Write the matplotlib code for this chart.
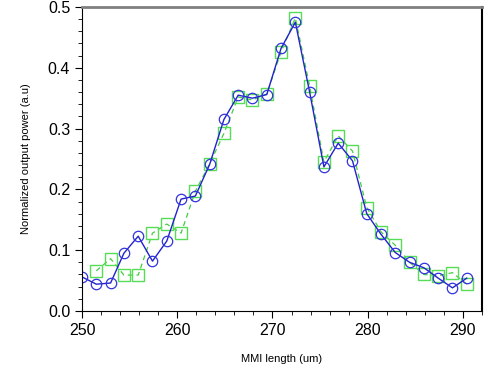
import numpy as np
import matplotlib.pyplot as plt
from matplotlib.ticker import MultipleLocator, FormatStrFormatter

plt.rcParams['font.family'] = ['Liberation Sans', 'DejaVu Sans']

# MMI length (um)
length = [250.0, 251.5, 253.0, 254.4, 255.9, 257.4, 258.9, 260.4, 261.9, 263.4,
          264.9, 266.4, 267.9, 269.4, 270.9, 272.4, 273.9, 275.4, 276.9, 278.4,
          279.9, 281.4, 282.9, 284.4, 285.9, 287.4, 288.9, 290.4]

# measured (blue circles)
power_a = [0.056, 0.044, 0.046, 0.095, 0.123, 0.082, 0.115, 0.184, 0.189, 0.241,
           0.315, 0.355, 0.350, 0.356, 0.432, 0.475, 0.360, 0.237, 0.276, 0.247,
           0.160, 0.126, 0.096, 0.080, 0.071, 0.054, 0.038, 0.054]

# second series (green squares), starts at 251.5
length_b = length[1:]
power_b = [0.066, 0.086, 0.059, 0.059, 0.128, 0.143, 0.128, 0.197, 0.242,
           0.292, 0.352, 0.347, 0.357, 0.426, 0.482, 0.370, 0.245, 0.288, 0.263,
           0.170, 0.130, 0.108, 0.080, 0.060, 0.058, 0.063, 0.044]

fig = plt.figure(figsize=(4.92, 3.68), dpi=100)
ax = fig.add_axes([0.1667, 0.155, 0.813, 0.826])

ax.plot(length_b, power_b, color='#44cc44', linestyle=(0, (4, 3)), linewidth=0.9,
        marker='s', markersize=8, markerfacecolor='none', markeredgecolor='#55dd55',
        markeredgewidth=1.0)
ax.plot(length, power_a, color='#2222cc', linewidth=1.0,
        marker='o', markersize=7.5, markerfacecolor='none', markeredgecolor='#3333dd',
        markeredgewidth=0.9)

ax.set_xlim(250, 292)
ax.set_ylim(0, 0.5)
ax.xaxis.set_major_locator(MultipleLocator(10))
ax.xaxis.set_minor_locator(MultipleLocator(2))
ax.yaxis.set_major_locator(MultipleLocator(0.1))
ax.yaxis.set_minor_locator(MultipleLocator(0.02))
ax.yaxis.set_major_formatter(FormatStrFormatter('%.1f'))
ax.tick_params(which='major', direction='out', length=5, width=0.8, labelsize=11.5)
ax.tick_params(which='minor', direction='out', length=3, width=0.6)

ax.spines['top'].set_color('#808080')
ax.spines['top'].set_linewidth(2)
ax.spines['right'].set_linewidth(1.5)

ax.set_xlabel('MMI length (um)', fontsize=8, labelpad=12)
ax.set_ylabel('Normalized output power (a.u)', fontsize=8, labelpad=12)

fig.savefig('out.png', dpi=100)
